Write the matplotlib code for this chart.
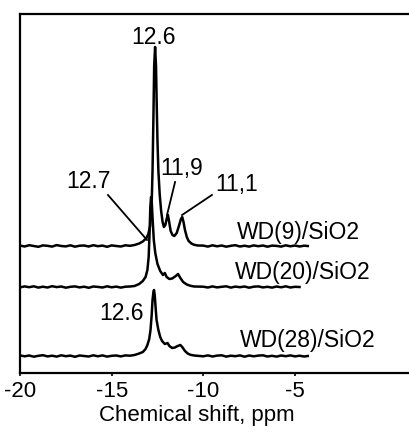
import matplotlib
matplotlib.use("Agg")
import matplotlib.pyplot as plt
import numpy as np

plt.rcParams['font.family'] = ['Liberation Sans', 'DejaVu Sans']

# ---- data (ppm positions, intensity above each trace's baseline) ----
base_left_ppm = [-20.0, -19.75, -19.5, -19.25, -19.0, -18.75, -18.5, -18.25, -18.0,
                 -17.75, -17.5, -17.25, -17.0, -16.75, -16.5, -16.25, -16.0, -15.75,
                 -15.5, -15.25, -15.0, -14.75, -14.5, -14.25, -14.0]

# WD(9)/SiO2
wd9_peak_ppm = [-13.75, -13.5, -13.3, -13.1, -13.0, -12.9, -12.82, -12.77, -12.72, -12.68,
                -12.63, -12.58, -12.54, -12.5, -12.45, -12.38, -12.3, -12.22, -12.15,
                -12.07, -12.0, -11.93, -11.87, -11.78, -11.68, -11.58, -11.45, -11.33,
                -11.22, -11.15, -11.08, -11.0, -10.9, -10.8, -10.65, -10.5, -10.3]
wd9_peak_int = [1, 2.5, 4.5, 8, 12, 20, 40, 75, 130, 180,
                199, 180, 140, 105, 75, 52, 35, 24, 19,
                21, 27, 31, 25, 15, 11, 10, 13, 20,
                27, 29, 24, 16, 9, 5, 2.5, 1.2, 0.5]
wd9_left_noise = [0.5, -0.5, 0.8, 0, -0.8, 0.6, 0.2, -0.6, 0.9, 0, -0.4, 0.7, -0.7,
                  0.3, 0.5, -0.5, 0.8, -0.2, 0.4, -0.8, 0.6, 0, -0.5, 0.7, 0.2]
wd9_right_ppm = [-10.0, -9.75, -9.5, -9.25, -9.0, -8.75, -8.5, -8.25, -8.0, -7.75, -7.5,
                 -7.25, -7.0, -6.75, -6.5, -6.25, -6.0, -5.75, -5.5, -5.25, -5.0, -4.75,
                 -4.5, -4.3]
wd9_right_noise = [0.4, -0.6, 0.7, -0.3, 0.5, -0.7, 0.2, 0.8, -0.5, 0.3, -0.6, 0.6,
                   -0.2, 0.5, -0.7, 0.4, 0.1, -0.6, 0.7, -0.3, 0.5, -0.5, 0.3, 0]
wd9_offset = 127

# WD(20)/SiO2
wd20_peak_ppm = [-13.75, -13.5, -13.3, -13.15, -13.05, -12.98, -12.93, -12.89, -12.85,
                 -12.81, -12.76, -12.7, -12.62, -12.5, -12.35, -12.2, -12.1, -12.0,
                 -11.85, -11.7, -11.5, -11.38, -11.25, -11.1, -10.9, -10.7, -10.5]
wd20_peak_int = [1, 3, 6, 10, 17, 30, 55, 80, 90,
                 84, 66, 47, 34, 23, 16, 12, 14, 10,
                 8, 8.5, 11, 13, 9, 5, 2.5, 1.2, 0.5]
wd20_left_noise = [-0.4, 0.6, -0.2, 0.7, -0.6, 0.3, -0.5, 0.8, -0.1, 0.5, -0.7, 0.2,
                   0.6, -0.4, 0.3, -0.8, 0.5, 0.1, -0.5, 0.7, -0.3, 0.4, -0.6, 0.3, 0.5]
wd20_right_ppm = [-10.0, -9.75, -9.5, -9.25, -9.0, -8.75, -8.5, -8.25, -8.0, -7.75, -7.5,
                  -7.25, -7.0, -6.75, -6.5, -6.25, -6.0, -5.75, -5.5, -5.25, -5.0, -4.75]
wd20_right_noise = [0.3, -0.5, 0.6, -0.4, 0.2, 0.7, -0.6, 0.4, -0.2, 0.5, -0.7, 0.3,
                    0.6, -0.4, 0.2, -0.6, 0.5, -0.3, 0.7, -0.5, 0.2, 0]
wd20_offset = 86

# WD(28)/SiO2
wd28_peak_ppm = [-13.75, -13.5, -13.3, -13.15, -13.05, -12.95, -12.88, -12.82, -12.77,
                 -12.72, -12.69, -12.65, -12.6, -12.55, -12.45, -12.35, -12.25, -12.1,
                 -11.95, -11.85, -11.7, -11.55, -11.4, -11.25, -11.15, -11.0, -10.85,
                 -10.7, -10.5]
wd28_peak_int = [1, 2.5, 4, 7, 11, 17, 26, 40, 56,
                 64, 66, 61, 48, 36, 26, 19, 15, 12,
                 13, 10, 8, 8.5, 10, 11, 9, 5, 2.5,
                 1.2, 0.5]
wd28_left_noise = [0.6, -0.3, 0.5, -0.7, 0.2, 0.8, -0.4, 0.3, -0.6, 0.7, -0.2, 0.4,
                   -0.8, 0.5, 0, -0.5, 0.7, -0.3, 0.6, -0.6, 0.2, 0.5, -0.4, 0.6, 0.3]
wd28_right_ppm = [-10.0, -9.75, -9.5, -9.25, -9.0, -8.75, -8.5, -8.25, -8.0, -7.75, -7.5,
                  -7.25, -7.0, -6.75, -6.5, -6.25, -6.0, -5.75, -5.5, -5.25, -5.0, -4.75,
                  -4.5, -4.3]
wd28_right_noise = [-0.3, 0.6, -0.5, 0.4, 0.7, -0.6, 0.3, -0.2, 0.6, -0.7, 0.5, -0.3,
                    0.4, 0.7, -0.5, 0.2, -0.6, 0.5, -0.2, 0.6, -0.4, 0.3, -0.5, 0]
wd28_offset = 17

xticks = [-20, -15, -10, -5]
xticklabels = ['-20', '-15', '-10', '-5']

# ---- figure ----
W, H = 409, 437
fig = plt.figure(figsize=(W / 100, H / 100), dpi=100)
x_min, x_max = -20, 3
px_per_ppm = 18.33
ax_left = 20
ax_top, ax_bottom = 14, 373
ax = fig.add_axes([ax_left / W, (H - ax_bottom) / H,
                   (x_max - x_min) * px_per_ppm / W, (ax_bottom - ax_top) / H])

def trace(lp, ln, pp, pi, rp, rn, off):
    x = list(lp) + list(pp) + list(rp)
    y = list(ln) + list(pi) + list(rn)
    return np.array(x), np.array(y) + off

for args in [
    (base_left_ppm, wd9_left_noise, wd9_peak_ppm, wd9_peak_int, wd9_right_ppm, wd9_right_noise, wd9_offset),
    (base_left_ppm, wd20_left_noise, wd20_peak_ppm, wd20_peak_int, wd20_right_ppm, wd20_right_noise, wd20_offset),
    (base_left_ppm, wd28_left_noise, wd28_peak_ppm, wd28_peak_int, wd28_right_ppm, wd28_right_noise, wd28_offset),
]:
    x, y = trace(*args)
    ax.plot(x, y, color='black', lw=1.8, solid_joinstyle='round')

ax.set_xlim(x_min, x_max)
ax.set_ylim(0, 359)
ax.set_xticks(xticks)
ax.set_xticklabels(xticklabels)
ax.set_yticks([])
ax.tick_params(axis='x', direction='out', length=2.5, width=1.2, labelsize=16, pad=3)
for s in ['left', 'top', 'bottom', 'right']:
    ax.spines[s].set_linewidth(1.6)
fig.text(197 / W, 1 - 415 / H, 'Chemical shift, ppm', ha='center', va='center', fontsize=16)

fs = 16.5
ax.text(-12.69, 336, '12.6', ha='center', va='center', fontsize=fs)
ax.text(-16.29, 191, '12.7', ha='center', va='center', fontsize=fs)
ax.plot([-15.2, -13.07], [178, 133], color='black', lw=1.3)
ax.text(-11.16, 205, '11,9', ha='center', va='center', fontsize=fs)
ax.plot([-11.54, -11.98], [191, 158], color='black', lw=1.3)
ax.text(-8.16, 188, '11,1', ha='center', va='center', fontsize=fs)
ax.plot([-9.53, -11.16], [178, 158], color='black', lw=1.3)
ax.text(-8.16, 140, 'WD(9)/SiO2', ha='left', va='center', fontsize=fs)
ax.text(-8.27, 101, 'WD(20)/SiO2', ha='left', va='center', fontsize=fs)
ax.text(-14.44, 60, '12.6', ha='center', va='center', fontsize=fs)
ax.text(-8.0, 33, 'WD(28)/SiO2', ha='left', va='center', fontsize=fs)

fig.savefig('out.png', dpi=100)
